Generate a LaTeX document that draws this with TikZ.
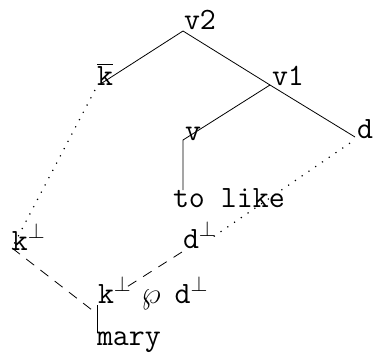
\RequirePackage{fix-cm}
\documentclass[tikz,border=0pt]{standalone}
\usepackage{fontspec}
\begin{document}
\begin{tikzpicture}[x=1pt,y=-1pt,
  lbl/.style={anchor=base west,inner sep=0pt,outer sep=0pt,font=\fontsize{31}{31}\selectfont\ttfamily},
  tree/.style={line width=0.8pt},
  dots/.style={line width=1.2pt,dash pattern=on 1.2pt off 7pt},
  dash2/.style={line width=0.8pt,dash pattern=on 10pt off 8pt}]
\useasboundingbox (0,0) rectangle (373,354);
\node[lbl] (v2) at (184,29) {v2};
\node[lbl] (kb) at (97,85) {$\overline{\hbox{\ttfamily k}}$};
\node[lbl] (v1) at (272,85) {v1};
\node[lbl] (d) at (357,138) {d};
\node[lbl] (v) at (185,140) {v};
\node[lbl] (tl) at (173,207) {to like};
\node[lbl] (kp) at (12,250) {k$^\perp$};
\node[lbl] (dp) at (183,248) {d$^\perp$};
\node[lbl] (kwd) at (98,303) {k$^\perp$\hspace{10pt}$\wp$\hspace{14pt}d$^\perp$};
\node[lbl] (mary) at (97,345) {mary};
\coordinate (v2a) at ([shift={(-1,2)}]v2.base west);
\coordinate (kba) at ([shift={(5,-2)}]kb.base west);
\coordinate (v1a) at ([shift={(-2,0)}]v1.base west);
\coordinate (da) at ([shift={(-2,-1)}]d.base west);
\coordinate (va) at ([shift={(-2,0)}]v.base west);
\coordinate (tla) at ([shift={(10,-17)}]tl.base west);
\coordinate (kbb) at ([shift={(-2,5)}]kb.base west);
\coordinate (kpa) at ([shift={(0,-2)}]kp.base west);
\coordinate (db) at ([shift={(-7,5)}]d.base west);
\coordinate (dpa) at ([shift={(30,-11)}]dp.base west);
\coordinate (dpb) at ([shift={(-1,4)}]dp.base west);
\coordinate (kwa) at ([shift={(24,-13)}]kwd.base west);
\coordinate (kwb) at ([shift={(-6,7)}]kwd.base west);
\coordinate (kwc) at ([shift={(-1,2)}]kwd.base west);
\coordinate (marya) at ([shift={(0,-12)}]mary.base west);
\draw[tree] (v2a) -- (kba);
\draw[tree] (v2a) -- (v1a) -- (da);
\draw[tree] (v1a) -- (va) -- (va |- tla);
\draw[dots] (kbb) -- (kpa);
\draw[dots] (db) -- (dpa);
\draw[dash2] (kpa) -- (kwb);
\draw[dash2] (dpb) -- (kwa);
\draw[tree] (kwc) -- (marya);
\end{tikzpicture}
\end{document}
